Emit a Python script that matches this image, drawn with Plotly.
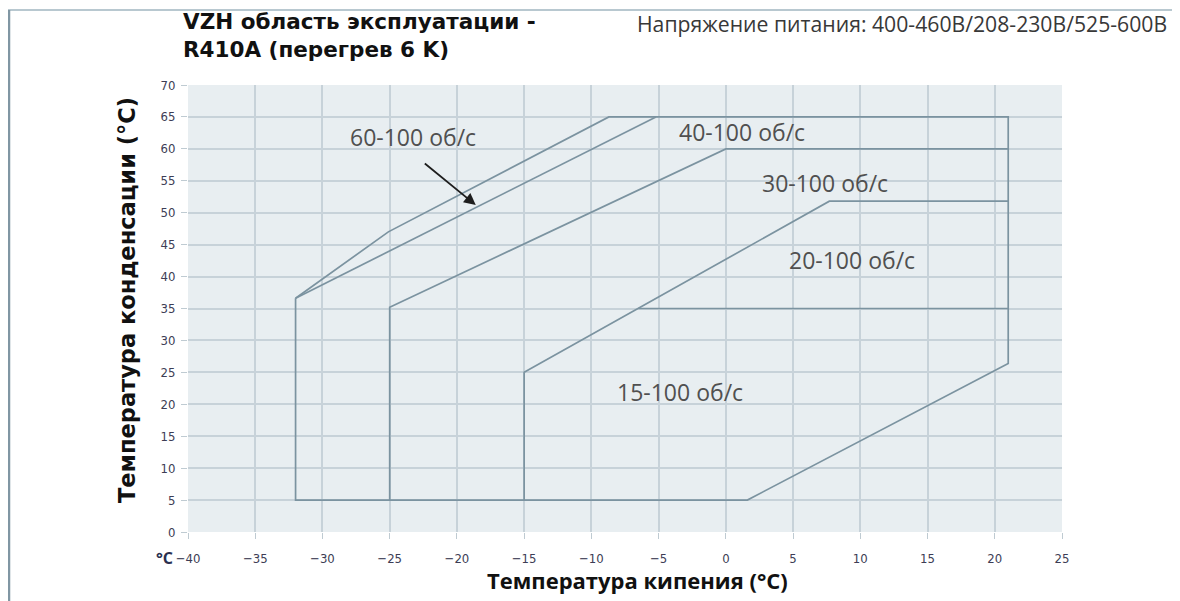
import plotly.graph_objects as go

# ---- data ----
outer_x = [-32, -32, 1.6, 21, 21, -8.7, -25.1, -32]
outer_y = [36.6, 5, 5, 26.4, 65, 65, 47.0, 36.6]
line60_x = [-32, -5.2]
line60_y = [36.6, 65]
line40_x = [-25, -25, 0, 21]
line40_y = [5, 35.2, 60, 60]
line30_x = [-15, -15, 7.7, 21]
line30_y = [5, 25, 51.8, 51.8]
line20_x = [-6.5, 21]
line20_y = [35, 35]

label_text = ["60-100 об/с", "40-100 об/с", "30-100 об/с", "20-100 об/с", "15-100 об/с"]
label_x = [-23.3, 1.2, 7.4, 9.4, -3.4]
label_y = [61.9, 62.6, 54.6, 42.6, 21.9]

arrow_tail = (-22.5, 57.9)
arrow_head = (-18.6, 51.2)

x_ticks = [-40, -35, -30, -25, -20, -15, -10, -5, 0, 5, 10, 15, 20, 25]
y_ticks = [0, 5, 10, 15, 20, 25, 30, 35, 40, 45, 50, 55, 60, 65, 70]

W, H = 1180, 601
OFF = 8  # page body margin
L, T = 188 - OFF, 85 - OFF
B = H - (532 - OFF)
R = W - (1062 - OFF)
PW, PH = W - L - R, H - T - B

def px(x):
    return (x - OFF - L) / PW

def py(y):
    return (H - B - (y - OFF)) / PH

LINE_COLOR = "#7b93a0"
fig = go.Figure()
for xs, ys in [(outer_x, outer_y), (line60_x, line60_y), (line40_x, line40_y),
               (line30_x, line30_y), (line20_x, line20_y)]:
    fig.add_trace(go.Scatter(x=xs, y=ys, mode="lines",
                             line=dict(color=LINE_COLOR, width=1.7),
                             hoverinfo="skip", showlegend=False))

for t, x, y in zip(label_text, label_x, label_y):
    fig.add_annotation(x=x, y=y, text=t, showarrow=False,
                       font=dict(family="Open Sans", size=23, color="#505050"))

fig.add_annotation(x=arrow_head[0], y=arrow_head[1], ax=arrow_tail[0], ay=arrow_tail[1],
                   axref="x", ayref="y", xref="x", yref="y", text="",
                   showarrow=True, arrowhead=2, arrowsize=1.3, arrowwidth=1.8,
                   arrowcolor="#1e1e1e")

TICKFONT = dict(family="DejaVu Sans Condensed", size=13, color="#3d3d55")
fig.update_xaxes(range=[-40, 25], tickvals=x_ticks, showgrid=True,
                 gridcolor="#c7d2d9", gridwidth=1.6, zeroline=False,
                 ticks="outside", ticklen=6, tickcolor="#bfcbd2",
                 tickfont=TICKFONT, ticklabelstandoff=8,
                 showline=False, automargin=False)
fig.update_yaxes(range=[0, 70], tickvals=y_ticks, showgrid=True,
                 gridcolor="#c7d2d9", gridwidth=1.6, zeroline=False,
                 ticks="outside", ticklen=6, tickcolor="#bfcbd2",
                 tickfont=TICKFONT, ticklabelstandoff=3,
                 showline=False, automargin=False)

ann = [
    dict(x=px(182), y=py(8), text="<b>VZH область эксплуатации -<br>R410A (перегрев 6 K)</b>",
         xanchor="left", yanchor="top", align="left",
         font=dict(family="DejaVu Sans", size=21.5, color="#111111")),
    dict(x=px(636), y=py(8), text="Напряжение питания: 400-460В/208-230В/525-600В", xanchor="left", yanchor="top",
         font=dict(family="Open Sans", size=21.2, color="#383838")),
    dict(x=px(127), y=py(300), text="<b>Температура конденсации (°C)</b>", textangle=-90, xanchor="center", yanchor="middle",
         font=dict(family="DejaVu Sans", size=22.5, color="#111111")),
    dict(x=px(637), y=py(580), text="<b>Температура кипения (°C)</b>", xanchor="center", yanchor="middle",
         font=dict(family="Open Sans", size=22, color="#111111")),
    dict(x=px(164), y=py(558), text="<b>°C</b>", xanchor="center", yanchor="middle",
         font=dict(family="Open Sans", size=16, color="#2a3050")),
]
for a in ann:
    fig.add_annotation(xref="paper", yref="paper", showarrow=False, borderpad=0, **a)

fig.add_shape(type="line", xref="paper", yref="paper", x0=px(8), x1=px(1190), y0=py(10), y1=py(10),
              line=dict(color="#b8c8d0", width=2))
fig.add_shape(type="line", xref="paper", yref="paper", x0=px(9), x1=px(9), y0=py(10), y1=py(610),
              line=dict(color="#8096a3", width=2.5))

fig.update_layout(width=W, height=H, margin=dict(l=L, r=R, t=T, b=B, autoexpand=False),
                  plot_bgcolor="#e8eef1", paper_bgcolor="white", showlegend=False)

fig.write_html("out.html")
